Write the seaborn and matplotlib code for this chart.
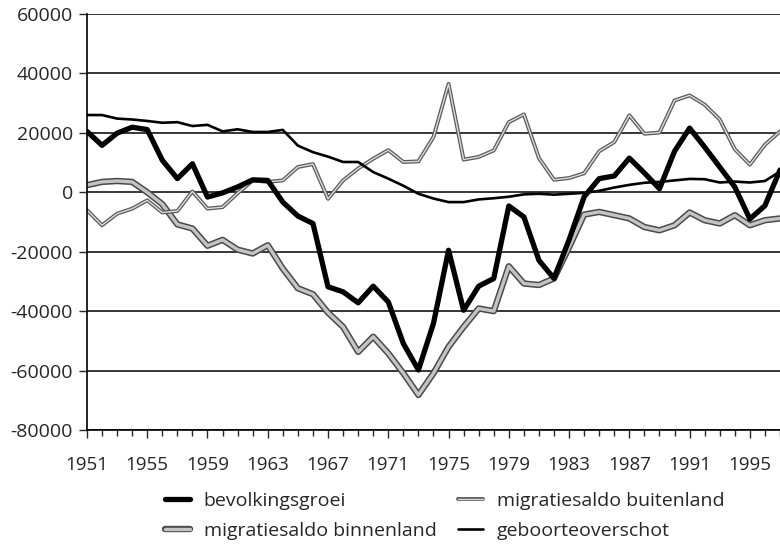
import numpy as np
import pandas as pd
import seaborn as sns
import matplotlib.pyplot as plt
import matplotlib.patheffects as pe

# jaren en reeksen
jaren = list(range(1951, 1998))

bevolkingsgroei = [20500, 15800, 19900, 21900, 21100, 10800, 4600, 9600, -1600, -200,
                   1800, 4200, 4000, -3300, -8000, -10500, -31800, -33500, -37200, -31600,
                   -36900, -50900, -59800, -44100, -19500, -39700, -31600, -29000, -4600, -8300,
                   -22900, -29000, -16000, -1500, 4600, 5500, 11500, 6500, 1200, 13800,
                   21600, 15200, 8500, 1800, -9000, -4500, 7500]

geboorteoverschot = [26000, 26000, 24800, 24500, 24000, 23400, 23600, 22300, 22700, 20500,
                     21200, 20300, 20300, 21000, 15700, 13500, 12000, 10200, 10200, 6800,
                     4600, 2200, -500, -2100, -3300, -3300, -2400, -2000, -1500, -700,
                     -500, -800, -500, -200, 500, 1600, 2500, 3200, 3500, 4000,
                     4500, 4400, 3300, 3600, 3300, 3800, 7000]

migratie_buitenland = [-6000, -11100, -7200, -5500, -2700, -6800, -6300, 300, -5500, -5000,
                       -300, 4000, 3500, 4000, 8500, 9500, -2200, 4000, 8000, 11300,
                       14200, 10200, 10400, 18600, 36500, 11000, 11900, 14100, 23600, 26200,
                       11500, 4200, 4800, 6400, 13800, 16900, 25900, 19700, 20100, 30900,
                       32600, 29500, 24500, 14500, 9300, 16000, 20500]

migratie_binnenland = [2400, 3500, 3800, 3500, 0, -4000, -10800, -12200, -18000, -16000,
                       -19300, -20600, -17800, -25700, -32300, -34300, -40500, -45300, -53700, -48600,
                       -54200, -60900, -68200, -60900, -52000, -45300, -39100, -40000, -24900, -30700,
                       -31200, -29000, -18500, -7500, -6600, -7700, -8800, -11700, -12800, -11100,
                       -6800, -9400, -10500, -7700, -11100, -9400, -8800]

df = pd.DataFrame({"jaar": jaren,
                   "bevolkingsgroei": bevolkingsgroei,
                   "geboorteoverschot": geboorteoverschot,
                   "migratiesaldo buitenland": migratie_buitenland,
                   "migratiesaldo binnenland": migratie_binnenland})

sns.set_style("white")
plt.rcParams["font.family"] = ["Open Sans", "DejaVu Sans"]

fig = plt.figure(figsize=(7.8, 5.45), dpi=100)
ax = fig.add_axes([0.1115, 0.211, 0.8885, 0.7633])

# binnenland: dikke grijze gearceerde lijn
sns.lineplot(data=df, x="jaar", y="migratiesaldo binnenland", ax=ax,
             color="#c4c4c4", linewidth=2.4, label="migratiesaldo binnenland",
             path_effects=[pe.Stroke(linewidth=4.6, foreground="#4a4a4a"), pe.Normal()])
# buitenland: dunne lichte lijn
sns.lineplot(data=df, x="jaar", y="migratiesaldo buitenland", ax=ax,
             color="#dcdcdc", linewidth=1.0, label="migratiesaldo buitenland",
             path_effects=[pe.Stroke(linewidth=2.8, foreground="#5a5a5a"), pe.Normal()])
sns.lineplot(data=df, x="jaar", y="geboorteoverschot", ax=ax,
             color="black", linewidth=1.9, label="geboorteoverschot")
sns.lineplot(data=df, x="jaar", y="bevolkingsgroei", ax=ax,
             color="black", linewidth=3.8, label="bevolkingsgroei")

ax.set_xlim(1951, 1997)
ax.set_ylim(-80000, 60000)
ax.set_xticks(range(1951, 1996, 4))
ax.set_xticks(range(1951, 1998), minor=True)
ax.set_yticks(range(-80000, 60001, 20000))
ax.set_yticklabels([str(v) for v in range(-80000, 60001, 20000)])
ax.tick_params(axis="x", which="major", direction="out", length=6, width=1,
               labelsize=13.5, pad=13, bottom=True)
ax.tick_params(axis="x", which="minor", direction="out", length=4, width=1, bottom=True)
ax.tick_params(axis="y", direction="out", length=6, width=1, labelsize=14, pad=4, left=True)

ax.yaxis.grid(True, color="black", linewidth=1.1)
ax.set_axisbelow(True)
for s in ["top", "right"]:
    ax.spines[s].set_visible(False)
for s in ["left", "bottom"]:
    ax.spines[s].set_color("black")
    ax.spines[s].set_linewidth(1.2)
ax.set_xlabel("")
ax.set_ylabel("")

# legenda onderaan, twee kolommen
handles, labels = ax.get_legend_handles_labels()
order = ["bevolkingsgroei", "migratiesaldo binnenland",
         "migratiesaldo buitenland", "geboorteoverschot"]
h = [handles[labels.index(l)] for l in order]
ax.legend(h, order, loc="upper left", bbox_to_anchor=(0.189, 0.13),
          bbox_transform=fig.transFigure, ncol=2, frameon=False,
          fontsize=14, handlelength=1.3, handletextpad=0.7,
          columnspacing=1.1, labelspacing=0.62)

plt.savefig("out.png", dpi=100)
